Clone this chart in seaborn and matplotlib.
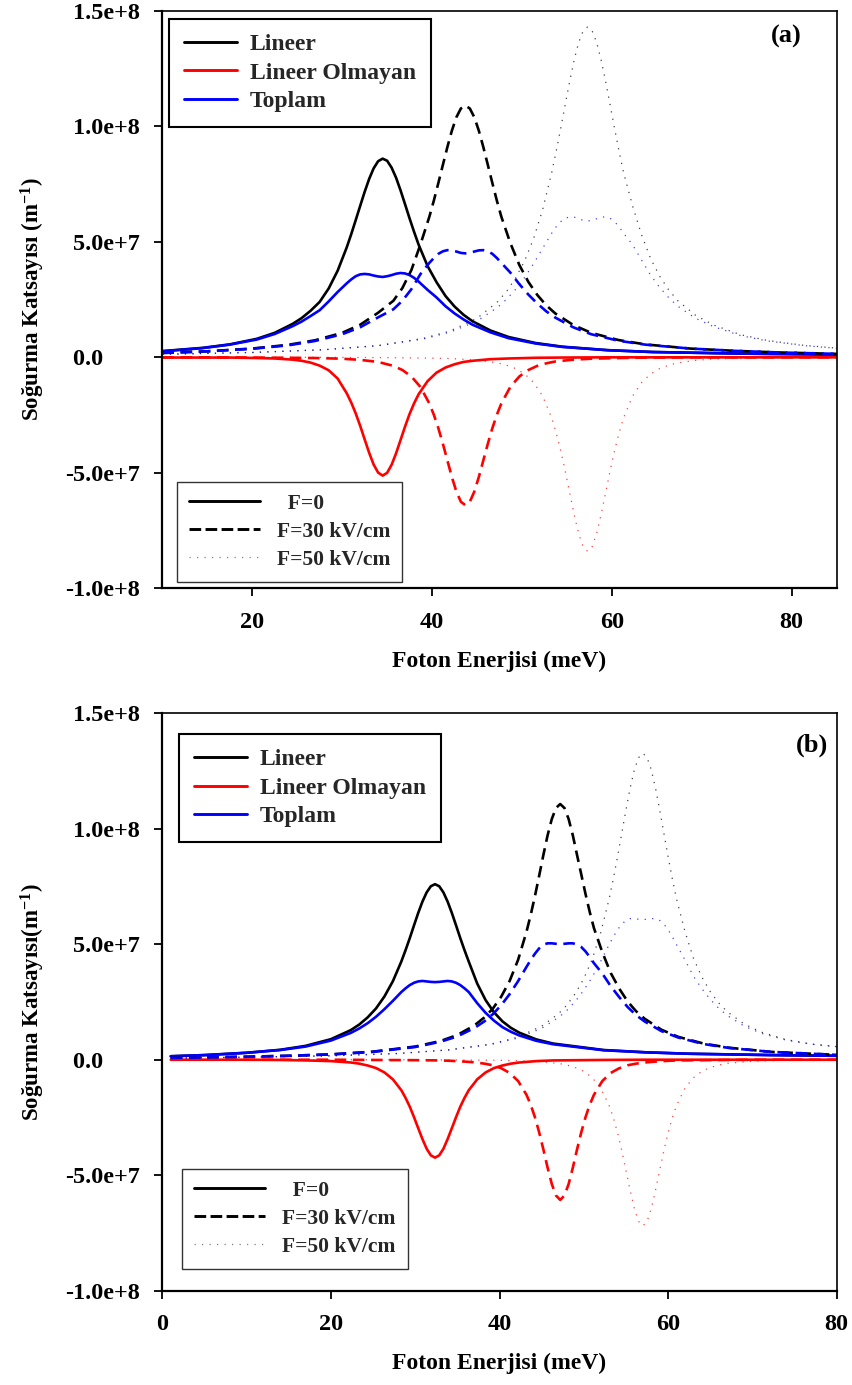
import numpy as np
import matplotlib
matplotlib.use("Agg")
import matplotlib.pyplot as plt
from matplotlib.lines import Line2D
from matplotlib.ticker import FuncFormatter
import seaborn as sns

# Absorption coefficients in units of 1e7 m^-1, photon energy in meV.
SCALE = 1e7

# ---- panel (a) ----
e_a0 = [10, 14.5, 17.5, 20.5, 22.5, 24.5, 25.5, 26.5, 27.5, 28.5, 29.5, 30.5, 31, 31.5, 32,
        32.5, 33, 33.5, 34, 34.5, 35, 35.5, 36, 36.5, 37, 37.5, 38, 38.5, 39.5, 40.5, 41.5,
        42.5, 43.5, 44.5, 46.5, 48.5, 51.5, 54.5, 59.5, 64.5, 74.5, 85]
lin_a0 = [0.27, 0.41, 0.56, 0.80, 1.06, 1.45, 1.70, 2.02, 2.40, 2.98, 3.75, 4.75, 5.32, 5.93,
          6.55, 7.16, 7.72, 8.18, 8.49, 8.60, 8.51, 8.21, 7.77, 7.22, 6.62, 6.01, 5.43, 4.88,
          3.95, 3.25, 2.65, 2.20, 1.84, 1.56, 1.16, 0.88, 0.62, 0.46, 0.31, 0.23, 0.16, 0.12]
nonlin_a0 = [-0.01, -0.01, -0.01, -0.03, -0.05, -0.10, -0.15, -0.23, -0.36, -0.56, -0.92, -1.55,
             -1.95, -2.42, -2.96, -3.55, -4.13, -4.64, -4.99, -5.12, -5.00, -4.65, -4.15, -3.57,
             -2.99, -2.45, -1.99, -1.60, -1.03, -0.66, -0.44, -0.30, -0.20, -0.15, -0.08, -0.05,
             -0.02, -0.01, 0.0, 0.0, 0.0, 0.0]
total_a0 = [0.26, 0.40, 0.55, 0.77, 1.01, 1.35, 1.55, 1.79, 2.04, 2.42, 2.83, 3.20, 3.37, 3.51,
            3.59, 3.61, 3.59, 3.54, 3.50, 3.48, 3.51, 3.56, 3.62, 3.65, 3.63, 3.56, 3.44, 3.28,
            2.92, 2.59, 2.21, 1.90, 1.64, 1.41, 1.08, 0.83, 0.60, 0.45, 0.31, 0.23, 0.16, 0.12]

e_a30 = [10, 15, 20, 24, 27, 30, 32, 34, 35.7, 36.7, 37.7, 38.7, 39.7, 40.2, 40.7, 41.2, 41.7,
         42.2, 42.7, 43.2, 43.7, 44.2, 44.7, 45.2, 45.7, 46.2, 46.7, 47.2, 47.7, 48.7, 49.7,
         50.7, 51.7, 52.7, 53.7, 55.7, 57.7, 60.7, 63.7, 68.7, 73.7, 78.7, 85]
lin_a30 = [0.19, 0.26, 0.38, 0.54, 0.74, 1.06, 1.41, 1.93, 2.45, 3.00, 3.78, 4.88, 6.09, 6.79,
           7.55, 8.33, 9.10, 9.81, 10.39, 10.77, 10.90, 10.77, 10.39, 9.81, 9.10, 8.33, 7.55,
           6.79, 6.09, 4.95, 4.00, 3.27, 2.70, 2.25, 1.90, 1.40, 1.06, 0.75, 0.56, 0.38, 0.28,
           0.21, 0.15]
nonlin_a30 = [0.0, 0.0, -0.01, -0.02, -0.03, -0.06, -0.11, -0.20, -0.37, -0.55, -0.83, -1.28,
              -2.00, -2.49, -3.07, -3.74, -4.46, -5.18, -5.81, -6.25, -6.40, -6.25, -5.81, -5.18,
              -4.46, -3.74, -3.07, -2.49, -2.00, -1.28, -0.83, -0.55, -0.37, -0.26, -0.18, -0.10,
              -0.06, -0.03, -0.01, 0.0, 0.0, 0.0, 0.0]
total_a30 = [0.19, 0.26, 0.37, 0.52, 0.71, 1.00, 1.30, 1.73, 2.08, 2.45, 2.95, 3.60, 4.09, 4.30,
             4.48, 4.59, 4.64, 4.63, 4.58, 4.52, 4.50, 4.52, 4.58, 4.63, 4.64, 4.59, 4.48, 4.30,
             4.09, 3.67, 3.17, 2.72, 2.33, 1.99, 1.72, 1.30, 1.00, 0.72, 0.55, 0.38, 0.28, 0.21,
             0.15]

e_a50 = [10, 20, 28, 34, 39, 42, 45, 47.3, 48.3, 49.3, 50.3, 51.3, 52.3, 53.3, 53.8, 54.3, 54.8,
         55.3, 55.8, 56.3, 56.8, 57.3, 57.8, 58.3, 58.8, 59.3, 59.8, 60.3, 60.8, 61.3, 62.3,
         63.3, 64.3, 65.3, 66.3, 67.3, 69.3, 71.3, 74.3, 77.3, 81.3, 85]
lin_a50 = [0.13, 0.21, 0.33, 0.51, 0.82, 1.14, 1.69, 2.41, 2.86, 3.44, 4.18, 5.15, 6.40, 7.99,
           8.91, 9.90, 10.93, 11.94, 12.87, 13.63, 14.13, 14.30, 14.13, 13.63, 12.87, 11.94,
           10.93, 9.90, 8.91, 7.99, 6.55, 5.30, 4.28, 3.52, 2.93, 2.46, 1.82, 1.40, 0.98, 0.73,
           0.52, 0.40]
nonlin_a50 = [0.0, 0.0, 0.0, -0.01, -0.03, -0.05, -0.12, -0.24, -0.34, -0.49, -0.72, -1.09,
              -1.68, -2.62, -3.26, -4.03, -4.91, -5.86, -6.80, -7.63, -8.20, -8.40, -8.20, -7.63,
              -6.80, -5.86, -4.91, -4.03, -3.26, -2.62, -1.68, -1.09, -0.72, -0.49, -0.34, -0.24,
              -0.13, -0.07, -0.04, -0.02, -0.01, -0.01]
total_a50 = [0.13, 0.21, 0.33, 0.50, 0.79, 1.09, 1.57, 2.17, 2.52, 2.95, 3.46, 4.06, 4.72, 5.37,
             5.65, 5.87, 6.02, 6.08, 6.07, 6.00, 5.93, 5.90, 5.93, 6.00, 6.07, 6.08, 6.02, 5.87,
             5.65, 5.37, 4.87, 4.21, 3.56, 3.03, 2.59, 2.22, 1.69, 1.33, 0.94, 0.71, 0.51, 0.39]

# ---- panel (b) ----
e_b0 = [1, 5, 10, 14, 17, 20, 22.35, 23.35, 24.35, 25.35, 26.35, 27.35, 28.35, 28.85, 29.35,
        29.85, 30.35, 30.85, 31.35, 31.85, 32.35, 32.85, 33.35, 33.85, 34.35, 34.85, 35.35,
        35.85, 36.35, 37.35, 38.35, 39.35, 40.35, 41.35, 42.35, 44.35, 46.35, 49.35, 52.35,
        57.35, 62.35, 72.35, 80]
lin_b0 = [0.15, 0.20, 0.30, 0.43, 0.60, 0.89, 1.28, 1.52, 1.83, 2.22, 2.74, 3.40, 4.25, 4.74,
          5.26, 5.81, 6.35, 6.84, 7.24, 7.51, 7.60, 7.51, 7.24, 6.84, 6.35, 5.81, 5.26, 4.74,
          4.25, 3.30, 2.58, 2.05, 1.66, 1.38, 1.17, 0.88, 0.70, 0.56, 0.42, 0.32, 0.26, 0.20,
          0.17]
nonlin_b0 = [0.0, 0.0, 0.0, -0.01, -0.03, -0.06, -0.12, -0.17, -0.25, -0.36, -0.55, -0.85,
             -1.32, -1.65, -2.03, -2.48, -2.96, -3.43, -3.85, -4.14, -4.24, -4.14, -3.85, -3.43,
             -2.96, -2.48, -2.03, -1.65, -1.32, -0.85, -0.55, -0.36, -0.25, -0.17, -0.12, -0.06,
             -0.03, -0.02, -0.01, 0.0, 0.0, 0.0, 0.0]
total_b0 = [0.15, 0.20, 0.30, 0.42, 0.57, 0.83, 1.16, 1.35, 1.58, 1.86, 2.19, 2.55, 2.93, 3.09,
            3.23, 3.33, 3.39, 3.41, 3.39, 3.37, 3.36, 3.37, 3.39, 3.41, 3.39, 3.33, 3.23, 3.09,
            2.93, 2.45, 2.03, 1.69, 1.41, 1.21, 1.05, 0.82, 0.67, 0.54, 0.41, 0.32, 0.26, 0.20,
            0.17]

e_b30 = [1, 5, 10, 15, 20, 25, 30, 33, 35, 37, 38.2, 39.2, 40.2, 41.2, 42.2, 43.2, 43.7, 44.2,
         44.7, 45.2, 45.7, 46.2, 46.7, 47.2, 47.7, 48.2, 48.7, 49.2, 49.7, 50.2, 50.7, 51.2,
         52.2, 53.2, 54.2, 55.2, 56.2, 57.2, 59.2, 61.2, 64.2, 67.2, 72.2, 80]
lin_b30 = [0.08, 0.10, 0.13, 0.17, 0.23, 0.35, 0.57, 0.81, 1.07, 1.48, 1.83, 2.21, 2.73, 3.41,
           4.32, 5.54, 6.27, 7.08, 7.96, 8.86, 9.71, 10.42, 10.90, 11.07, 10.90, 10.42, 9.71,
           8.86, 8.02, 7.18, 6.40, 5.70, 4.65, 3.75, 3.08, 2.52, 2.10, 1.78, 1.30, 0.99, 0.70,
           0.52, 0.34, 0.21]
nonlin_b30 = [0.0, 0.0, 0.0, 0.0, 0.0, -0.01, -0.02, -0.03, -0.06, -0.11, -0.17, -0.24, -0.37,
              -0.57, -0.92, -1.52, -1.95, -2.49, -3.14, -3.88, -4.67, -5.38, -5.88, -6.07, -5.88,
              -5.38, -4.67, -3.88, -3.14, -2.49, -1.95, -1.52, -0.92, -0.57, -0.37, -0.24, -0.17,
              -0.12, -0.06, -0.03, -0.02, -0.01, 0.0, 0.0]
total_b30 = [0.08, 0.10, 0.13, 0.17, 0.23, 0.34, 0.55, 0.78, 1.01, 1.37, 1.66, 1.97, 2.36, 2.84,
             3.40, 4.02, 4.32, 4.59, 4.82, 4.98, 5.04, 5.04, 5.02, 5.00, 5.02, 5.04, 5.04, 4.98,
             4.88, 4.69, 4.45, 4.18, 3.73, 3.18, 2.71, 2.28, 1.93, 1.66, 1.24, 0.96, 0.68, 0.51,
             0.34, 0.21]

e_b50 = [1, 10, 20, 28, 34, 39, 42, 45, 47, 48, 49, 50, 51, 52, 53, 53.5, 54, 54.5, 55, 55.5, 56,
         56.5, 57, 57.5, 58, 58.5, 59, 59.5, 60, 60.5, 61, 62, 63, 64, 65, 66, 67, 69, 71, 74, 77,
         80]
lin_b50 = [0.07, 0.11, 0.17, 0.27, 0.43, 0.68, 0.96, 1.45, 1.99, 2.37, 2.87, 3.51, 4.36, 5.49,
           6.96, 7.83, 8.79, 9.80, 10.82, 11.77, 12.56, 13.08, 13.27, 13.08, 12.56, 11.77, 10.82,
           9.80, 8.79, 7.83, 6.96, 5.55, 4.40, 3.58, 2.95, 2.46, 2.08, 1.55, 1.20, 0.87, 0.68,
           0.57]
nonlin_b50 = [0.0, 0.0, 0.0, 0.0, -0.01, -0.02, -0.04, -0.09, -0.16, -0.23, -0.34, -0.50, -0.78,
              -1.23, -1.98, -2.51, -3.16, -3.93, -4.79, -5.66, -6.45, -7.00, -7.20, -7.00, -6.45,
              -5.66, -4.79, -3.93, -3.16, -2.51, -1.98, -1.23, -0.78, -0.50, -0.34, -0.23, -0.16,
              -0.09, -0.05, -0.02, -0.01, -0.01]
total_b50 = [0.07, 0.11, 0.17, 0.27, 0.42, 0.66, 0.92, 1.36, 1.83, 2.14, 2.53, 3.01, 3.58, 4.26,
             4.98, 5.32, 5.63, 5.87, 6.03, 6.11, 6.11, 6.08, 6.07, 6.08, 6.11, 6.11, 6.03, 5.87,
             5.63, 5.32, 4.98, 4.32, 3.62, 3.08, 2.61, 2.23, 1.92, 1.46, 1.15, 0.85, 0.67, 0.56]

series_labels = ["Lineer", "Lineer Olmayan", "Toplam"]
field_labels = ["  F=0", "F=30 kV/cm", "F=50 kV/cm"]
panel_tags = ["(a)", "(b)"]

# ---- styling ----
sns.set_theme(style="ticks")
plt.rcParams["font.family"] = ["Liberation Serif", "DejaVu Serif"]
plt.rcParams["font.weight"] = "bold"
plt.rcParams["axes.labelweight"] = "bold"
plt.rcParams["mathtext.fontset"] = "custom"
plt.rcParams["mathtext.rm"] = "Liberation Serif:bold"
plt.rcParams["mathtext.bf"] = "Liberation Serif:bold"
plt.rcParams["mathtext.it"] = "Liberation Serif:bold"
plt.rcParams["mathtext.default"] = "bf"

COLORS = ["#000000", "#ff0000", "#0000ff"]
STYLES = [
    dict(linewidth=1.9, linestyle="-"),
    dict(linewidth=1.9, linestyle=(0, (4.4, 2.5))),
    dict(linewidth=0.9, linestyle=(0, (1.0, 5.0)), alpha=0.75),
]


def sci_label(v, pos):
    if abs(v) < 1:
        return "0.0      "
    mant, ex = f"{v:.1e}".split("e")
    return f"{mant}e+{int(ex)}"


fig = plt.figure(figsize=(8.53, 13.85), dpi=100)
ax_a = fig.add_axes([0.1903, 0.5752, 0.7906, 0.4170])
ax_b = fig.add_axes([0.1903, 0.0681, 0.7906, 0.4169])

panels = [
    (ax_a, (10, 85), [20, 40, 60, 80],
     [(e_a0, lin_a0, nonlin_a0, total_a0),
      (e_a30, lin_a30, nonlin_a30, total_a30),
      (e_a50, lin_a50, nonlin_a50, total_a50)],
     "Soğurma Katsayısı (m$^{-1}$)"),
    (ax_b, (0, 80), [0, 20, 40, 60, 80],
     [(e_b0, lin_b0, nonlin_b0, total_b0),
      (e_b30, lin_b30, nonlin_b30, total_b30),
      (e_b50, lin_b50, nonlin_b50, total_b50)],
     "Soğurma Katsayısı(m$^{-1}$)"),
]

leg1_pos = [(0.0099, 0.9856), (0.0252, 0.9636)]
leg2_pos = [(0.0214, 0.1846), (0.0297, 0.2108)]
tag_pos = [(0.9256, 0.956), (0.964, 0.945)]

for i, (ax, xlim, xticks, fields, ylab) in enumerate(panels):
    for (energy, lin, nonlin, total), style in zip(fields, STYLES):
        for vals, col in zip((lin, nonlin, total), COLORS):
            sns.lineplot(x=energy, y=np.asarray(vals) * SCALE, ax=ax, color=col,
                         errorbar=None, **style)

    ax.set_xlim(*xlim)
    ax.set_ylim(-1e8, 1.5e8)
    ax.set_xticks(xticks)
    ax.set_yticks(np.arange(-1e8, 1.51e8, 5e7))
    ax.yaxis.set_major_formatter(FuncFormatter(sci_label))
    ax.tick_params(axis="both", direction="out", length=6, width=1.3, color="black",
                   labelsize=17.5, labelcolor="black")
    ax.tick_params(axis="y", pad=10)
    ax.tick_params(axis="x", pad=11)
    for lab in ax.get_xticklabels() + ax.get_yticklabels():
        lab.set_fontweight("bold")
    for side, sp in ax.spines.items():
        sp.set_visible(True)
        sp.set_color("black")
        sp.set_linewidth(1.6 if side in ("left", "bottom") else 1.2)

    ax.set_xlabel("Foton Enerjisi (meV)", fontsize=17, fontweight="bold", color="black")
    ax.set_ylabel(ylab, fontsize=16.5, fontweight="bold", color="black")
    ax.xaxis.set_label_coords(0.5, -0.108)
    ax.yaxis.set_label_coords(-0.171, 0.5)

    ax.text(*tag_pos[i], panel_tags[i], transform=ax.transAxes, ha="center", va="center",
            fontsize=19, fontweight="bold", color="black")

    series_handles = [Line2D([], [], color=c, linewidth=2.1) for c in COLORS]
    leg1 = ax.legend(series_handles, series_labels, loc="upper left",
                     bbox_to_anchor=leg1_pos[i], bbox_transform=ax.transAxes,
                     borderaxespad=0, handlelength=2.25, handletextpad=0.55,
                     borderpad=0.62, labelspacing=0.29, fancybox=False, framealpha=1,
                     edgecolor="black", prop={"weight": "bold", "size": 17})
    leg1.get_frame().set_linewidth(1.5)
    ax.add_artist(leg1)

    field_handles = [
        Line2D([], [], color="black", linewidth=2.1, linestyle="-"),
        Line2D([], [], color="black", linewidth=2.1, linestyle=(0, (4.0, 1.5))),
        Line2D([], [], color="black", linewidth=0.9, linestyle=(0, (1.0, 5.0)), alpha=0.5),
    ]
    leg2 = ax.legend(field_handles, field_labels, loc="upper left",
                     bbox_to_anchor=leg2_pos[i], bbox_transform=ax.transAxes,
                     borderaxespad=0, handlelength=3.3, handletextpad=0.8,
                     borderpad=0.55, labelspacing=0.37, fancybox=False, framealpha=1,
                     edgecolor="#333333", prop={"weight": "bold", "size": 15.5})
    leg2.get_frame().set_linewidth(1.0)

fig.savefig("out.png", dpi=100)
